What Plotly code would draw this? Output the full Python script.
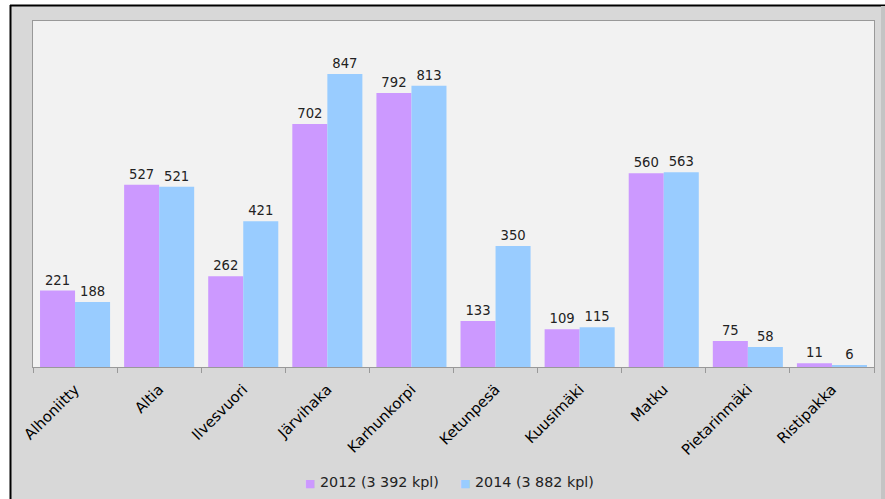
import plotly.graph_objects as go

categories = ["Alhoniitty", "Altia", "Ilvesvuori", "Järvihaka", "Karhunkorpi",
              "Ketunpesä", "Kuusimäki", "Matku", "Pietarinmäki", "Ristipakka"]
values_2012 = [221, 527, 262, 702, 792, 133, 109, 560, 75, 11]
values_2014 = [188, 521, 421, 847, 813, 350, 115, 563, 58, 6]
name_2012 = "2012 (3 392 kpl)"
name_2014 = "2014 (3 882 kpl)"

C12 = "#cc99ff"
C14 = "#99ccff"
FONT = "DejaVu Sans"

W, H = 885, 499
ML, MR, MT, MB = 33, 11, 21, 132
PW, PH = W - ML - MR, H - MT - MB

def px_x(p):
    return (p - ML) / PW

def px_y(p):
    return (H - MB - p) / PH

fig = go.Figure()
for name, vals, col in [(name_2012, values_2012, C12), (name_2014, values_2014, C14)]:
    fig.add_trace(go.Bar(
        x=categories, y=vals, name=name, showlegend=False,
        marker=dict(color=col, line=dict(width=0)),
        text=vals, textposition="outside", cliponaxis=False,
        textfont=dict(family=FONT, size=13.2, color="#222222"),
        hoverinfo="x+y",
    ))
    # legend entry: coloured square glyph followed by the series name
    fig.add_trace(go.Scatter(
        x=[None], y=[None], mode="markers",
        name='<span style="color:%s;font-size:11px">■</span> %s' % (col, name),
        marker=dict(size=1, color="rgba(0,0,0,0)"),
    ))
# blank spacer entry so the last legend label is not clipped
fig.add_trace(go.Scatter(x=[None], y=[None], mode="markers", name=" ",
                         marker=dict(size=1, color="rgba(0,0,0,0)"), hoverinfo="skip"))

shapes = [
    dict(type="rect", xref="paper", yref="paper", x0=px_x(-5), x1=px_x(10), y0=px_y(-5), y1=px_y(H + 5),
         fillcolor="white", line=dict(width=0), layer="above"),
    dict(type="rect", xref="paper", yref="paper", x0=px_x(-5), x1=px_x(W + 5), y0=px_y(-5), y1=px_y(5),
         fillcolor="white", line=dict(width=0), layer="above"),
    dict(type="line", xref="paper", yref="paper", x0=px_x(10.5), x1=px_x(10.5), y0=px_y(5), y1=px_y(H + 5),
         line=dict(color="black", width=2), layer="above"),
    dict(type="line", xref="paper", yref="paper", x0=px_x(10), x1=px_x(W + 5), y0=px_y(5.5), y1=px_y(5.5),
         line=dict(color="black", width=2), layer="above"),
    dict(type="rect", xref="paper", yref="paper", x0=px_x(881), x1=px_x(W + 5), y0=px_y(6), y1=px_y(H + 5),
         fillcolor="#c4c4c4", line=dict(width=0), layer="above"),
]

fig.update_layout(
    template="none",
    width=W, height=H,
    margin=dict(l=ML, r=MR, t=MT, b=MB, pad=0, autoexpand=False),
    paper_bgcolor="#d8d8d8",
    plot_bgcolor="#f2f2f2",
    font=dict(family=FONT, color="#222222"),
    barmode="group", bargap=0.167, bargroupgap=0,
    shapes=shapes,
    showlegend=True,
    legend=dict(orientation="h", x=px_x(265), xanchor="left", y=px_y(482), yanchor="middle",
                font=dict(family=FONT, size=14.3, color="#222222"),
                bgcolor="rgba(0,0,0,0)", borderwidth=0, itemwidth=30,
                entrywidth=110, entrywidthmode="pixels"),
    xaxis=dict(
        type="category", tickangle=-45, tickson="boundaries", ticks="outside",
        ticklen=5, tickcolor="#999999", showline=True, linecolor="#999999", linewidth=1,
        mirror=True, showgrid=False, zeroline=False, automargin=False,
        ticklabelstandoff=7,
        tickfont=dict(family=FONT, size=14.8, color="#000000"),
    ),
    yaxis=dict(
        range=[0, 1000], showticklabels=False, showgrid=False, zeroline=False,
        showline=True, linecolor="#999999", linewidth=1, mirror=True, ticks="", automargin=False,
    ),
)

fig.write_html("out.html", config={"displayModeBar": False},
               post_script="document.body.style.margin='0';")
